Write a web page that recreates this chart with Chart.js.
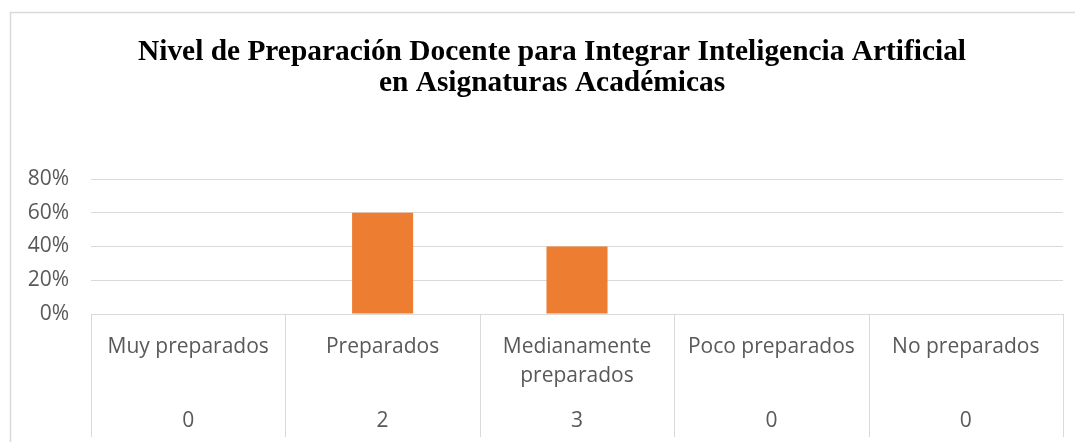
<!DOCTYPE html>
<html>
<head>
<meta charset="utf-8">
<script src="https://cdn.jsdelivr.net/npm/chart.js@4.4.0/dist/chart.umd.min.js"></script>
<style>
    html, body { margin: 0; padding: 0; background: #fff; }
    #wrap { position: relative; width: 1075px; height: 442px; }
</style>
</head>
<body>
<div id="wrap"><canvas id="chart"></canvas></div>
<script>
// Chart data
const categories = ['Muy preparados', 'Preparados', 'Medianamente preparados', 'Poco preparados', 'No preparados'];
const percentages = [0, 0.6, 0.4, 0, 0];
const counts = [0, 2, 3, 0, 0];
const yTicks = [0, 0.2, 0.4, 0.6, 0.8];
const titleLines = ['Nivel de Preparación Docente para Integrar Inteligencia Artificial', 'en Asignaturas Académicas'];

const textColor = '#595959';
const lineColor = '#d9d9d9';
const labelFont = '21px "Open Sans"';

// Draws frame, title and the data table below the plot
const tablePlugin = {
    id: 'tablePlugin',
    beforeDraw(chart) {
        const ctx = chart.ctx;
        ctx.save();
        ctx.fillStyle = '#fff';
        ctx.fillRect(0, 0, chart.width, chart.height);
        ctx.strokeStyle = lineColor;
        ctx.lineWidth = 1.5;
        ctx.strokeRect(10.5, 12.5, 1200, 600);

        // title: the original is a tall, narrow serif
        ctx.fillStyle = '#000';
        ctx.textAlign = 'center';
        ctx.textBaseline = 'alphabetic';
        ctx.font = 'bold 29px "Liberation Serif"';
        const sx = 828 / ctx.measureText(titleLines[0]).width;
        ctx.translate(552, 0);
        ctx.scale(sx, 1);
        ctx.fillText(titleLines[0], 0, 60);
        ctx.fillText(titleLines[1], 0, 91);
        ctx.restore();
    },
    afterDraw(chart) {
        const ctx = chart.ctx;
        const x = chart.scales.x;
        const area = chart.chartArea;
        const n = categories.length;
        const step = (area.right - area.left) / n;
        ctx.save();
        ctx.strokeStyle = lineColor;
        ctx.lineWidth = 1;
        for (let i = 0; i <= n; i++) {
            const px = Math.round(x.getPixelForValue(i) - step / 2) + 0.5;
            ctx.beginPath();
            ctx.moveTo(px, area.bottom);
            ctx.lineTo(px, 437);
            ctx.stroke();
        }
        ctx.fillStyle = textColor;
        ctx.font = labelFont;
        ctx.textAlign = 'center';
        ctx.textBaseline = 'middle';
        categories.forEach((c, i) => {
            const cx = x.getPixelForValue(i);
            const lines = c === 'Medianamente preparados' ? ['Medianamente', 'preparados'] : [c];
            lines.forEach((l, j) => ctx.fillText(l, cx, area.bottom + 33 + j * 29));
            ctx.fillText(String(counts[i]), cx, area.bottom + 107);
        });
        ctx.restore();
    }
};

new Chart(document.getElementById('chart'), {
    type: 'bar',
    data: {
        labels: categories,
        datasets: [{
            data: percentages,
            backgroundColor: '#ed7d31',
            categoryPercentage: 1,
            barPercentage: 0.314
        }]
    },
    options: {
        responsive: true,
        maintainAspectRatio: false,
        animation: false,
        layout: { padding: { top: 179, right: 12, bottom: 128, left: 0 } },
        plugins: {
            legend: { display: false },
            title: { display: false },
            tooltip: { enabled: false }
        },
        scales: {
            x: { display: false },
            y: {
                min: 0,
                max: 0.8,
                afterFit(scale) { scale.width = 91; },
                afterBuildTicks(scale) { scale.ticks = yTicks.map(v => ({ value: v })); },
                border: { display: false },
                grid: { color: lineColor, lineWidth: 1, drawTicks: false },
                ticks: {
                    padding: 22,
                    color: textColor,
                    font: { family: 'Open Sans', size: 21 },
                    callback: v => Math.round(v * 100) + '%'
                }
            }
        }
    },
    plugins: [tablePlugin]
});
</script>
</body>
</html>
